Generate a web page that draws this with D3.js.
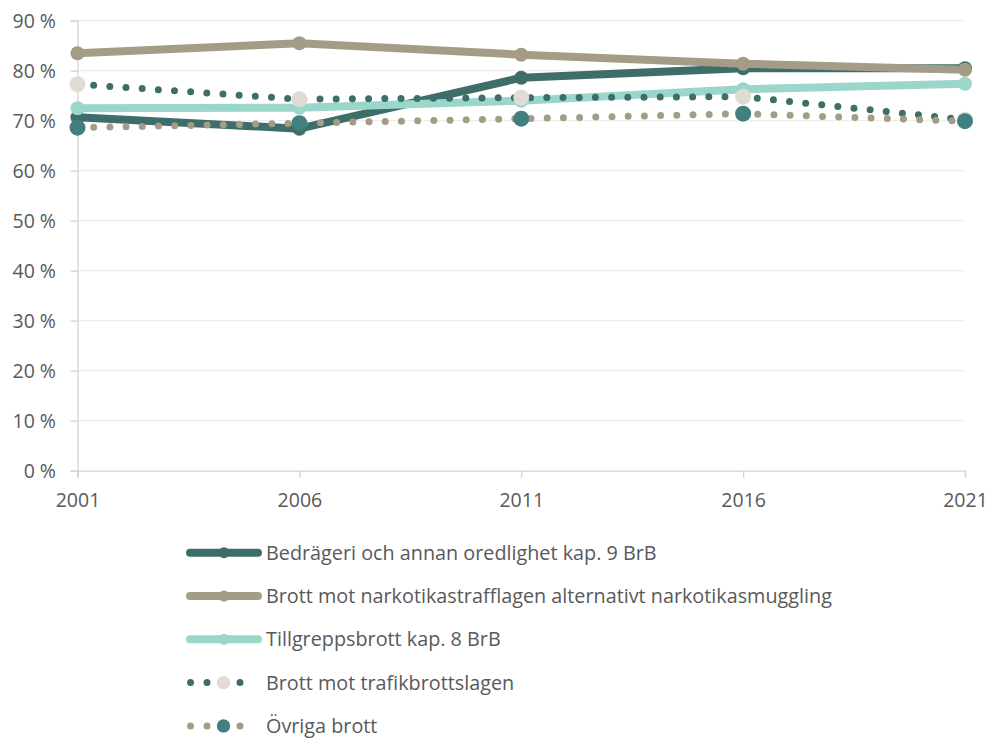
<!DOCTYPE html>
<html>
<head>
<meta charset="utf-8">
<script src="https://cdn.jsdelivr.net/npm/d3@7"></script>
<style>
  body { margin: 0; background: #fff; }
  text { font-family: "Open Sans", sans-serif; fill: #595959; }
</style>
</head>
<body>
<div id="chart-area"></div>
<script>
const W = 992
const H = 738
const MARGIN = {LEFT: 77.5, RIGHT: 27, TOP: 20.7, BOTTOM: 267.3}
const WIDTH = W - MARGIN.LEFT - MARGIN.RIGHT
const HEIGHT = H - MARGIN.TOP - MARGIN.BOTTOM

// data (share, %)
const years = [2001, 2006, 2011, 2016, 2021]
const yTicks = [0, 10, 20, 30, 40, 50, 60, 70, 80, 90]
const bedrageri = [70.7, 68.4, 78.6, 80.5, 80.5]
const narkotika = [83.5, 85.5, 83.2, 81.4, 80.2]
const tillgrepp = [72.5, 72.6, 74.0, 76.3, 77.4]
const trafik = [77.3, 74.3, 74.6, 74.8, 70.2]
const ovriga = [68.6, 69.5, 70.4, 71.4, 69.9]

const series = [
  {name: "Bedrägeri och annan oredlighet kap. 9 BrB", values: bedrageri, color: "#3e6e6a", marker: "#3e6e6a", dotted: false},
  {name: "Brott mot narkotikastrafflagen alternativt narkotikasmuggling", values: narkotika, color: "#a49c87", marker: "#a49c87", dotted: false},
  {name: "Tillgreppsbrott kap. 8 BrB", values: tillgrepp, color: "#9ad6ca", marker: "#9ad6ca", dotted: false},
  {name: "Brott mot trafikbrottslagen", values: trafik, color: "#3e6e6a", marker: "#e0dbd4", dotted: true},
  {name: "Övriga brott", values: ovriga, color: "#a49c87", marker: "#427f7f", dotted: true}
]

const svg = d3.select("#chart-area").append("svg")
  .attr("width", W)
  .attr("height", H)

const g = svg.append("g")
  .attr("transform", `translate(${MARGIN.LEFT}, ${MARGIN.TOP})`)

const x = d3.scaleLinear()
  .domain([2001, 2021])
  .range([0, WIDTH])

const y = d3.scaleLinear()
  .domain([0, 90])
  .range([HEIGHT, 0])

// gridlines
g.append("g")
  .selectAll("line")
  .data(yTicks.filter(d => d > 0))
  .enter().append("line")
  .attr("x1", 0)
  .attr("x2", WIDTH)
  .attr("y1", d => y(d))
  .attr("y2", d => y(d))
  .attr("stroke", "#ebebeb")
  .attr("stroke-width", 1)

const yAxisCall = d3.axisLeft(y)
  .tickValues(yTicks)
  .tickSize(7)
  .tickPadding(14.5)
  .tickFormat(d => d + " %")
const yAxisGroup = g.append("g").call(yAxisCall)

const xAxisCall = d3.axisBottom(x)
  .tickValues(years)
  .tickSize(7)
  .tickPadding(15)
  .tickFormat(d3.format("d"))
const xAxisGroup = g.append("g")
  .attr("transform", `translate(0, ${HEIGHT})`)
  .call(xAxisCall)

;[yAxisGroup, xAxisGroup].forEach(ax => {
  ax.select(".domain").attr("stroke", "#d4d4d4").attr("stroke-width", 1.3)
  ax.selectAll(".tick line").attr("stroke", "#d4d4d4").attr("stroke-width", 1.3)
  ax.selectAll(".tick text")
    .attr("font-size", "19.5px")
    .style("font-family", "'Open Sans', sans-serif")
    .attr("fill", "#595959")
})
yAxisGroup.selectAll(".tick text").attr("dy", "0.36em")

const line = d3.line()
  .x((d, i) => x(years[i]))
  .y(d => y(d))

series.forEach(s => {
  const path = g.append("path")
    .datum(s.values)
    .attr("d", line)
    .attr("fill", "none")
    .attr("stroke", s.color)
    .attr("stroke-linecap", "round")
    .attr("stroke-linejoin", "round")
  if (s.dotted) {
    path.attr("stroke-width", 7).attr("stroke-dasharray", "0 16.2")
  } else {
    path.attr("stroke-width", 8)
  }
  g.append("g").selectAll("circle")
    .data(s.values)
    .enter().append("circle")
    .attr("cx", (d, i) => x(years[i]))
    .attr("cy", d => y(d))
    .attr("r", s.dotted ? 8 : 7)
    .attr("fill", s.marker)
})

// legend
const legend = svg.append("g")
  .attr("transform", "translate(190, 552.7)")

series.forEach((s, i) => {
  const row = legend.append("g").attr("transform", `translate(0, ${i * 43.3})`)
  if (s.dotted) {
    row.append("line")
      .attr("x1", 0.5).attr("x2", 66.5)
      .attr("stroke", s.color)
      .attr("stroke-width", 7)
      .attr("stroke-linecap", "round")
      .attr("stroke-dasharray", "0 16.5")
    row.append("circle").attr("cx", 33.5).attr("r", 6.7).attr("fill", s.marker)
  } else {
    row.append("line")
      .attr("x1", 0).attr("x2", 68)
      .attr("stroke", s.color)
      .attr("stroke-width", 8)
      .attr("stroke-linecap", "round")
    row.append("circle").attr("cx", 34).attr("r", 5.5).attr("fill", s.marker)
  }
  row.append("text")
    .attr("x", 76)
    .attr("dy", "0.36em")
    .attr("font-size", "19.8px")
    .text(s.name)
})
</script>
</body>
</html>
